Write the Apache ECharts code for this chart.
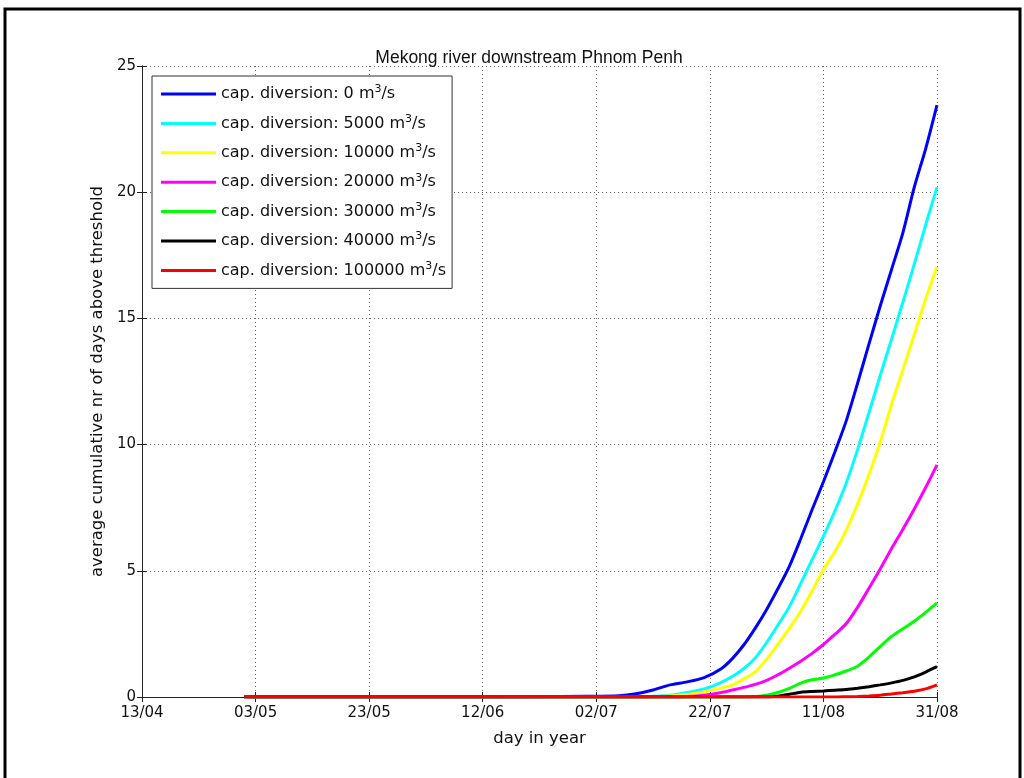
<!DOCTYPE html>
<html>
<head>
<meta charset="utf-8">
<script src="https://cdn.jsdelivr.net/npm/echarts@6/dist/echarts.min.js"></script>
<style>html,body{margin:0;padding:0;background:#fff}#c{width:1024px;height:778px}</style>
</head>
<body>
<div id="c"></div>
<script>
// day offsets counted from 13/04
const days = [18, 60, 78, 84, 87, 90, 93, 96, 99, 102, 104, 106, 108, 110, 112, 114, 116, 118, 120, 122, 124, 126, 128, 130, 132, 134, 136, 138, 140];
const xTickLabels = ['13/04', '03/05', '23/05', '12/06', '02/07', '22/07', '11/08', '31/08'];
const seriesNames = ['0', '5000', '10000', '20000', '30000', '40000', '100000'];
const seriesColors = ['#0000ff', '#00ffff', '#ffff00', '#ff00ff', '#00ff00', '#000000', '#ff0000'];
const div0 = [0, 0, 0.03, 0.05, 0.13, 0.28, 0.48, 0.60, 0.77, 1.12, 1.53, 2.07, 2.73, 3.47, 4.30, 5.18, 6.27, 7.42, 8.53, 9.70, 10.93, 12.42, 13.97, 15.49, 16.94, 18.40, 20.20, 21.72, 23.45];
const div5000 = [0, 0, 0, 0, 0.01, 0.03, 0.07, 0.18, 0.32, 0.58, 0.82, 1.13, 1.55, 2.16, 2.85, 3.58, 4.50, 5.44, 6.37, 7.36, 8.47, 9.79, 11.25, 12.74, 14.18, 15.65, 17.15, 18.70, 20.20];
const div10000 = [0, 0, 0, 0, 0, 0.01, 0.04, 0.10, 0.20, 0.35, 0.48, 0.72, 1.00, 1.50, 2.10, 2.72, 3.40, 4.20, 5.05, 5.75, 6.60, 7.63, 8.80, 10.10, 11.60, 12.97, 14.36, 15.77, 17.05];
const div20000 = [0, 0, 0, 0, 0, 0, 0, 0.02, 0.07, 0.18, 0.28, 0.38, 0.50, 0.66, 0.88, 1.14, 1.42, 1.73, 2.08, 2.48, 2.90, 3.55, 4.30, 5.07, 5.88, 6.65, 7.45, 8.30, 9.20];
const div30000 = [0, 0, 0, 0, 0, 0, 0, 0, 0, 0, 0, 0, 0.02, 0.07, 0.18, 0.34, 0.55, 0.68, 0.75, 0.88, 1.03, 1.22, 1.58, 2.00, 2.40, 2.70, 3.00, 3.35, 3.73];
const div40000 = [0, 0, 0, 0, 0, 0, 0, 0, 0, 0, 0, 0, 0, 0, 0.03, 0.11, 0.19, 0.22, 0.24, 0.27, 0.30, 0.35, 0.41, 0.48, 0.56, 0.66, 0.80, 0.99, 1.20];
const div100000 = [0, 0, 0, 0, 0, 0, 0, 0, 0, 0, 0, 0, 0, 0, 0, 0, 0, 0, 0, 0, 0.01, 0.02, 0.04, 0.07, 0.12, 0.17, 0.23, 0.32, 0.48];
const allValues = [div0, div5000, div10000, div20000, div30000, div40000, div100000];

const FONT = 'DejaVu Sans';
const chart = echarts.init(document.getElementById('c'), null, {renderer: 'canvas'});

const series = seriesNames.map((n, i) => ({
  name: 'cap. diversion: ' + n + ' m{sup|3}/s',
  type: 'line',
  data: days.map((d, k) => [d, allValues[i][k]]),
  showSymbol: false,
  smooth: 0.25,
  lineStyle: {color: seriesColors[i], width: 3},
  itemStyle: {color: seriesColors[i]},
  z: 2 + i,
  animation: false
}));

const axisCommon = {
  axisLine: {show: true, lineStyle: {color: '#222', width: 1}},
  axisTick: {show: true, inside: true, length: 5, lineStyle: {color: '#222'}},
};

chart.setOption({
  animation: false,
  backgroundColor: '#fff',
  title: {
    text: 'Mekong river downstream Phnom Penh',
    left: 524, top: 44, textAlign: 'center',
    textStyle: {fontFamily: 'Liberation Sans', fontSize: 17.5, fontWeight: 'normal', color: '#111'}
  },
  grid: {left: 142, right: 87, top: 66, bottom: 81, containLabel: false},
  legend: {
    orient: 'vertical',
    left: 152, top: 76,
    backgroundColor: '#fff',
    borderColor: '#333', borderWidth: 1,
    padding: [8, 6, 7, 9],
    itemWidth: 55, itemHeight: 3, itemGap: 8.4,
    icon: 'rect',
    textStyle: {
      fontFamily: FONT, fontSize: 16, color: '#111', lineHeight: 20,
      rich: {sup: {fontFamily: FONT, fontSize: 11, verticalAlign: 'top', lineHeight: 20, padding: [0, 0, 10, 0]}}
    },
    data: series.map(s => ({name: s.name, icon: 'rect', itemStyle: {color: s.lineStyle.color}}))
  },
  xAxis: [{
    type: 'value', min: 0, max: 140, interval: 20,
    name: 'day in year', nameLocation: 'middle', nameGap: 33,
    nameTextStyle: {fontFamily: FONT, fontSize: 16.5, color: '#111'},
    ...axisCommon,
    axisLabel: {fontFamily: FONT, fontSize: 15, color: '#111', margin: 9, formatter: v => xTickLabels[Math.round(v / 20)]},
    splitLine: {show: true, lineStyle: {color: '#666', type: [1, 3], width: 1}}
  }, {
    type: 'value', min: 0, max: 140, interval: 20, position: 'top',
    ...axisCommon, axisLabel: {show: false}, splitLine: {show: false}
  }],
  yAxis: [{
    type: 'value', min: 0, max: 25, interval: 5,
    name: 'average cumulative nr of days above threshold', nameLocation: 'middle', nameGap: 31,
    nameTextStyle: {fontFamily: FONT, fontSize: 16.5, color: '#111'},
    ...axisCommon,
    axisLabel: {fontFamily: FONT, fontSize: 15, color: '#111', margin: 6},
    splitLine: {show: true, lineStyle: {color: '#666', type: [1, 3], width: 1}}
  }, {
    type: 'value', min: 0, max: 25, interval: 5, position: 'right',
    ...axisCommon, axisLabel: {show: false}, splitLine: {show: false}
  }],
  graphic: [{
    type: 'rect', silent: true, z: 100,
    shape: {x: 5, y: 9, width: 1015, height: 800},
    style: {fill: 'none', stroke: '#000', lineWidth: 3}
  }],
  series: series
});
</script>
</body>
</html>
